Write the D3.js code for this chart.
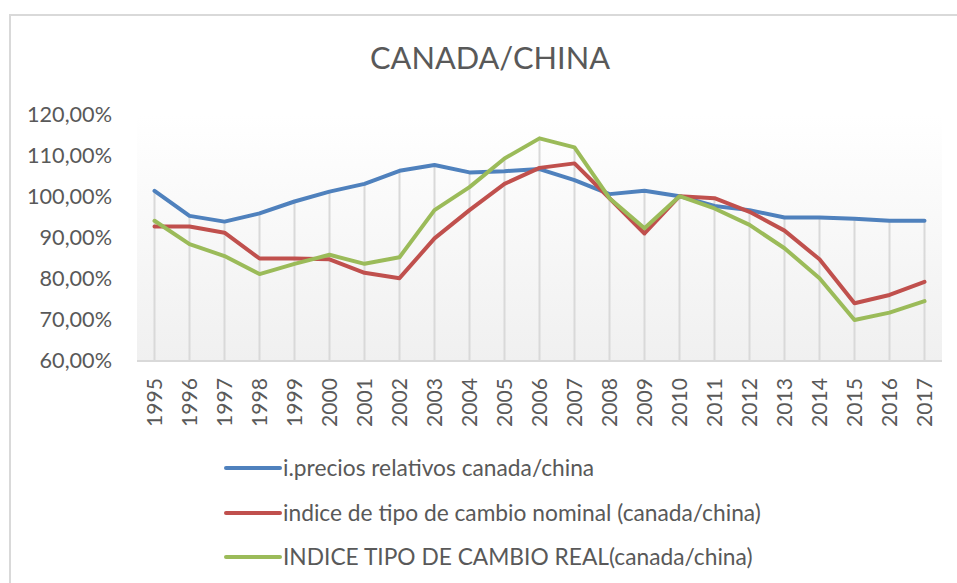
<!DOCTYPE html>
<html>
<head>
<meta charset="utf-8">
<script src="https://cdn.jsdelivr.net/npm/d3@7"></script>
<style>
  body { margin: 0; background: #fff; }
  text { font-family: Lato, "Open Sans", sans-serif; fill: #595959; }
</style>
</head>
<body>
<div class="canvas"></div>
<script>
// data
const years = ['1995','1996','1997','1998','1999','2000','2001','2002','2003','2004','2005','2006',
               '2007','2008','2009','2010','2011','2012','2013','2014','2015','2016','2017'];
const preciosRelativos = [101.5, 95.4, 94.0, 96.0, 98.9, 101.3, 103.2, 106.4, 107.8, 106.0, 106.3, 106.8,
                          104.1, 100.7, 101.5, 100.2, 97.8, 96.8, 95.0, 95.0, 94.7, 94.2, 94.2];
const cambioNominal = [92.8, 92.8, 91.3, 85.0, 85.0, 84.8, 81.5, 80.2, 89.9, 96.8, 103.2, 107.1,
                       108.2, 99.7, 91.1, 100.2, 99.7, 96.4, 91.8, 84.8, 74.1, 76.1, 79.3];
const cambioReal = [94.2, 88.5, 85.6, 81.2, 83.7, 85.9, 83.7, 85.3, 96.8, 102.4, 109.4, 114.3,
                    112.1, 99.7, 92.4, 100.2, 97.2, 93.2, 87.5, 80.2, 70.0, 71.8, 74.6];
const seriesNames = ['i.precios relativos canada/china',
                     'indice de tipo de cambio nominal (canada/china)',
                     'INDICE TIPO DE CAMBIO REAL(canada/china)'];
const seriesColors = ['#4f81bd', '#c0504d', '#9bbb59'];
const yTicks = [60, 70, 80, 90, 100, 110, 120];
const chartTitle = 'CANADA/CHINA';

const series = [preciosRelativos, cambioNominal, cambioReal];

// fit a text's font-size so it spans a given width
const fitWidth = (node, width) => {
  const len = node.getComputedTextLength();
  const size = parseFloat(node.getAttribute('font-size'));
  return size * width / len;
};

// dimensions
const width = 957, height = 583;
const margin = {top: 115, right: 15, bottom: 222, left: 137};
const graphWidth = width - margin.left - margin.right;
const graphHeight = height - margin.top - margin.bottom;

const svg = d3.select('.canvas')
  .append('svg')
  .attr('width', width)
  .attr('height', height);

// chart frame (only top/left edge visible)
svg.append('rect')
  .attr('x', 10).attr('y', 15)
  .attr('width', 1000).attr('height', 1000)
  .attr('fill', 'none')
  .attr('stroke', '#d9d9d9')
  .attr('stroke-width', 2);

// title
const title = svg.append('text')
  .attr('x', 490).attr('y', 69)
  .attr('text-anchor', 'middle')
  .attr('font-size', 30)
  .text(chartTitle);
title.attr('font-size', fitWidth(title.node(), 240));

const graph = svg.append('g')
  .attr('transform', `translate(${margin.left},${margin.top})`);

// plot area gradient
const grad = svg.append('defs').append('linearGradient')
  .attr('id', 'plotBg')
  .attr('x1', 0).attr('y1', 0).attr('x2', 0).attr('y2', 1);
grad.append('stop').attr('offset', '0%').attr('stop-color', '#ffffff');
grad.append('stop').attr('offset', '100%').attr('stop-color', '#f0f0f0');

graph.append('rect')
  .attr('width', graphWidth)
  .attr('height', graphHeight)
  .attr('fill', 'url(#plotBg)');

// scales
const xScale = d3.scalePoint().domain(years).range([0, graphWidth]).padding(0.5);
const yScale = d3.scaleLinear().domain([60, 120]).range([graphHeight, 0]);

// drop lines from highest series to axis
graph.append('g')
  .selectAll('line')
  .data(years)
  .enter()
  .append('line')
    .attr('x1', d => xScale(d))
    .attr('x2', d => xScale(d))
    .attr('y1', (d, i) => yScale(d3.max(series, s => s[i])))
    .attr('y2', graphHeight)
    .attr('stroke', '#d9d9d9')
    .attr('stroke-width', 2);

// y axis
const yAxis = d3.axisLeft(yScale)
  .tickValues(yTicks)
  .tickSize(0)
  .tickPadding(25)
  .tickFormat(d => d + ',00%');
const yAxisGroup = graph.append('g').call(yAxis);
yAxisGroup.select('.domain').remove();
const yLabels = yAxisGroup.selectAll('text')
  .attr('font-size', 20)
  .attr('fill', '#595959')
  .attr('font-family', null);
const yNodes = yLabels.nodes();
yLabels.attr('font-size', fitWidth(yNodes[yNodes.length - 1], 85));

// x axis
const xAxis = d3.axisBottom(xScale).tickSize(0).tickPadding(0);
const xAxisGroup = graph.append('g')
  .attr('transform', `translate(0, ${graphHeight})`)
  .call(xAxis);
xAxisGroup.select('.domain')
  .attr('d', `M0,0H${graphWidth}`)
  .attr('stroke', '#d9d9d9')
  .attr('stroke-width', 2);
const xLabels = xAxisGroup.selectAll('text')
  .attr('font-size', 20)
  .attr('fill', '#595959')
  .attr('font-family', null)
  .attr('text-anchor', 'end')
  .attr('transform', 'translate(0,17) rotate(-90)')
  .attr('x', 0).attr('y', 0)
  .attr('dy', '0.35em');
xLabels.attr('font-size', fitWidth(xLabels.node(), 49));

// lines
const line = d3.line()
  .x((d, i) => xScale(years[i]))
  .y(d => yScale(d));

graph.selectAll('path.series')
  .data(series)
  .enter()
  .append('path')
    .attr('class', 'series')
    .attr('d', line)
    .attr('fill', 'none')
    .attr('stroke', (d, i) => seriesColors[i])
    .attr('stroke-width', 4)
    .attr('stroke-linejoin', 'round')
    .attr('stroke-linecap', 'round');

// legend
const legendY = [468, 513, 557];
const legend = svg.append('g');
const items = legend.selectAll('g')
  .data(seriesNames)
  .enter()
  .append('g')
    .attr('transform', (d, i) => `translate(226, ${legendY[i]})`);
items.append('line')
  .attr('x1', 0).attr('x2', 54)
  .attr('stroke', (d, i) => seriesColors[i])
  .attr('stroke-width', 4)
  .attr('stroke-linecap', 'round');
const labels = items.append('text')
  .attr('x', 57)
  .attr('dy', '0.35em')
  .attr('font-size', 22)
  .text(d => d);
labels.attr('font-size', fitWidth(labels.nodes()[1], 478));
</script>
</body>
</html>
